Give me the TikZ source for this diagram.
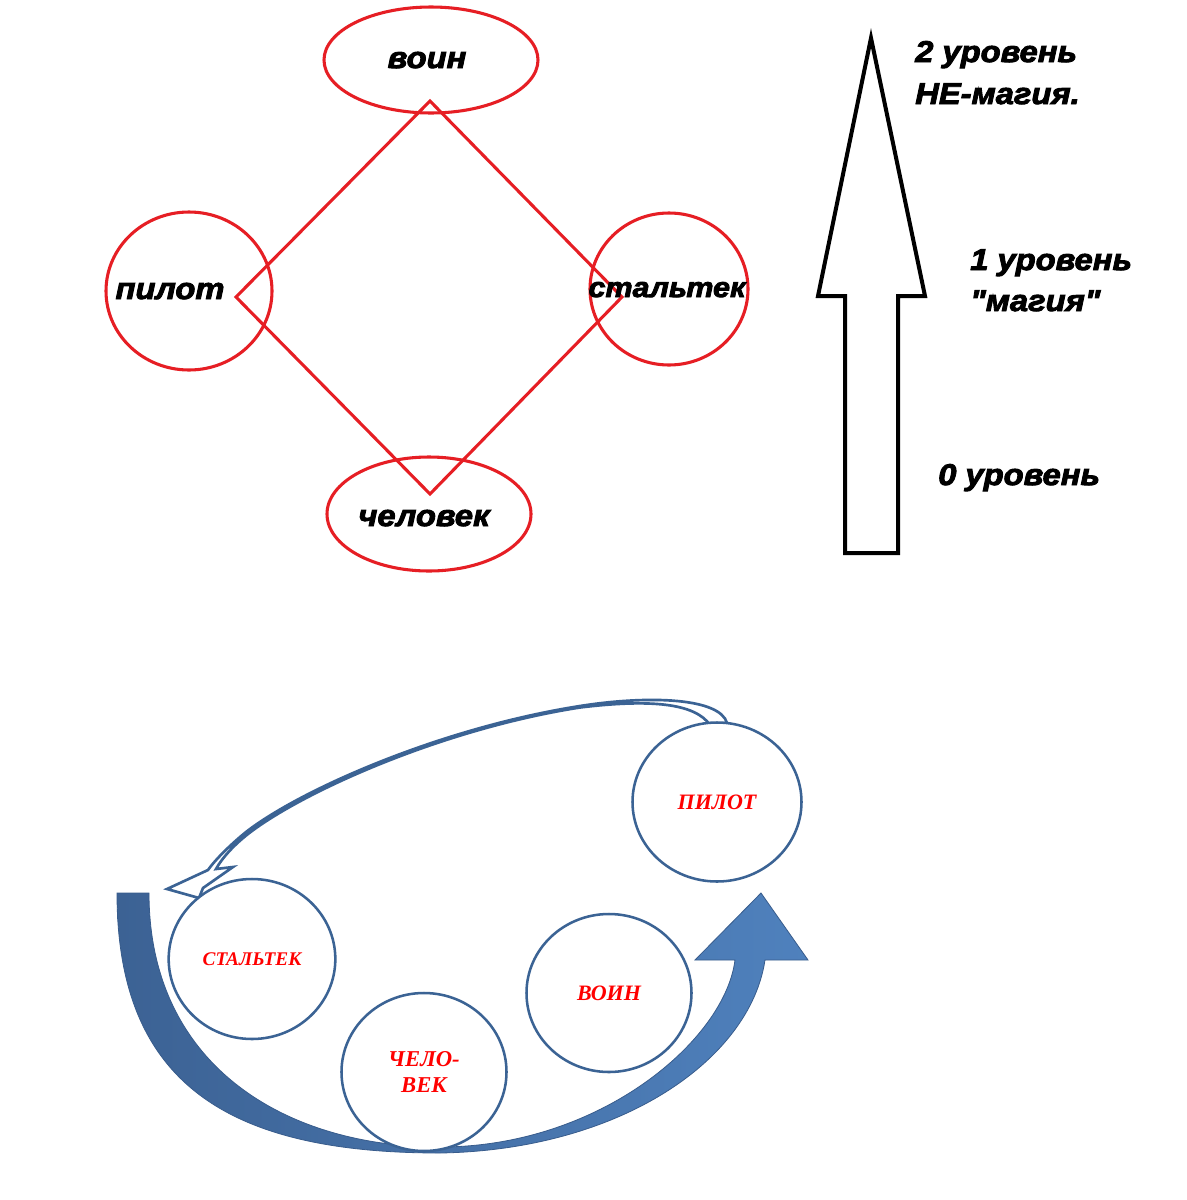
\documentclass[tikz,border=0pt]{standalone}
\usepackage{fontspec}
\setmainfont{Liberation Serif}
\newfontfamily\heavy[FakeStretch=1.09,FakeBold=3]{Liberation Sans}
\usetikzlibrary{shapes.geometric}
\definecolor{dred}{RGB}{230,30,36}
\definecolor{cblue}{RGB}{59,99,148}
\definecolor{bandL}{RGB}{60,98,148}
\definecolor{bandR}{RGB}{79,129,189}
\definecolor{bandD}{RGB}{56,92,140}
\definecolor{txtred}{RGB}{255,0,0}
\begin{document}
\begin{tikzpicture}[x=0.75pt,y=-0.75pt,
  redell/.style={ellipse,draw=dred,line width=2.3pt,inner sep=0pt},
  redline/.style={draw=dred,line width=2.3pt},
  toptxt/.style={font=\heavy\bfseries\itshape\fontsize{22.5}{26}\selectfont,inner sep=0pt,anchor=base},
  lvltxt/.style={toptxt,anchor=base west},
  bcirc/.style={ellipse,draw=cblue,line width=1.9pt,fill=white,inner sep=0pt,
    text=txtred,font=\bfseries\itshape\fontsize{16.5}{20}\selectfont,align=center},
  hollow/.style={draw=cblue,line width=2pt,fill=white,line join=miter},
  bigarrow/.style={draw=black,line width=3pt,fill=white,line join=miter}
]
\useasboundingbox[fill=white] (0,0) rectangle (1187,1200);

% ---------- top diagram ----------
\node[redell,minimum width=160.5pt,minimum height=79.5pt] (voinE) at (431,60) {};
\node[redell,minimum width=124.5pt,minimum height=118.5pt] (pilotE) at (189,291) {};
\node[redell,minimum width=118.5pt,minimum height=114pt] (stalE) at (669,289) {};
\node[redell,minimum width=153pt,minimum height=85.5pt] (chelE) at (429,514) {};

\coordinate (dT) at (430,101);
\coordinate (dR) at (622,297);
\coordinate (dB) at (430,494);
\coordinate (dL) at (236,297);
\draw[redline,line join=miter] (dT) -- (dR) -- (dB) -- (dL) -- cycle;

\node[toptxt] (voinT) at (427,68) {воин};
\node[toptxt] (pilotT) at (170,299) {пилот};
\node[toptxt,font=\heavy\bfseries\itshape\fontsize{21}{26}\selectfont] (stalT) at (667,297) {стальтек};
\node[toptxt] (chelT) at (424,526) {человек};

% ---------- level arrow ----------
\draw[bigarrow] (871,38) -- (925,296) -- (898,296) -- (898,553) -- (845,553) -- (845,296) -- (818,296) -- cycle;
\node[lvltxt] (l2a) at (915,62) {2 уровень};
\node[lvltxt] (l2b) at (915,104) {НЕ-магия.};
\node[lvltxt] (l1a) at (970,270) {1 уровень};
\node[lvltxt] (l1b) at (970,311) {"магия"};
\node[lvltxt] (l0) at (938,485) {0 уровень};

% ---------- bottom diagram ----------
% big curved arrow
\shade[left color=bandL,right color=bandR,draw=bandD,line width=0.6pt,line join=miter]
  (117,893) .. controls (117,1085) and (230,1153) .. (440,1153)
  .. controls (620,1150) and (750,1060) .. (765,960)
  -- (808,960) -- (761,893) -- (695,960) -- (735,960)
  .. controls (725,1040) and (600,1147) .. (440,1147)
  .. controls (285,1147) and (149,1065) .. (149,893) -- cycle;

% thin hollow curved arrow
\draw[hollow]
  (727,723) .. controls (720,698) and (650,695) .. (580,706)
  .. controls (440,728) and (300,790) .. (246,832)
  .. controls (230,845) and (215,860) .. (208,870)
  -- (167,889) -- (199,898) -- (203,888) -- (233,867) -- (216,869)
  .. controls (222,858) and (234,845) .. (248,834)
  .. controls (302,792) and (442,729) .. (580,707.5)
  .. controls (650,699) and (695,703) .. (710,725) -- cycle;

\node[bcirc,minimum width=126.75pt,minimum height=119.25pt] (pilotC) at (717,802) {ПИЛОТ};
\node[bcirc,minimum width=125pt,minimum height=120pt,font=\bfseries\itshape\fontsize{14.5}{18}\selectfont] (stalC) at (252,959) {СТАЛЬТЕК};
\node[bcirc,minimum width=123.75pt,minimum height=118.5pt] (voinC) at (609,993) {ВОИН};
\node[bcirc,minimum width=123.75pt,minimum height=118.5pt,font=\bfseries\itshape\fontsize{17}{20}\selectfont] (chelC) at (424,1072) {ЧЕЛО-\\ВЕК};
\end{tikzpicture}
\end{document}
